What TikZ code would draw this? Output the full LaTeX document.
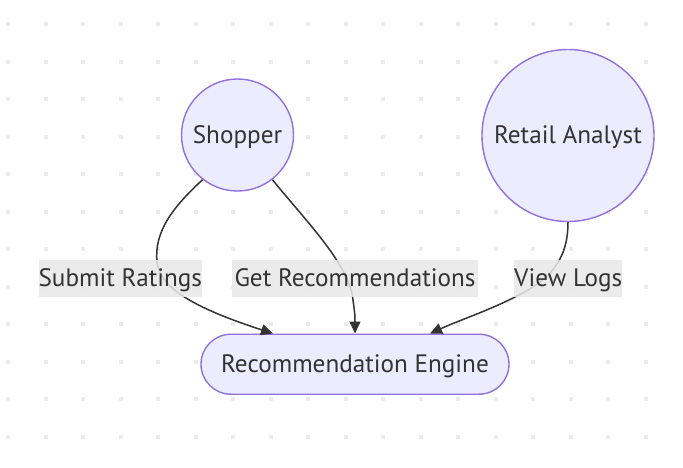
\documentclass[tikz,border=0pt]{standalone}
\usepackage{fontspec}
\setmainfont{PT Sans}
\usetikzlibrary{arrows.meta,calc}
\definecolor{nodefill}{HTML}{ECECFF}
\definecolor{nodeline}{HTML}{9370DB}
\definecolor{ink}{HTML}{333333}
\definecolor{lblbg}{HTML}{E8E8E8}
\definecolor{dotc}{HTML}{EBEBEB}
\tikzset{
  txt/.style={text=ink,font=\fontsize{25.2}{30}\selectfont,text height=20pt,text depth=3.4pt},
  actor/.style={circle,draw=nodeline,fill=nodefill,line width=1.4pt,txt,inner sep=0pt},
  engine/.style={rectangle,rounded corners=30pt,draw=nodeline,fill=nodefill,line width=1.4pt,txt,minimum width=308pt,minimum height=60pt,inner sep=0pt},
  lbl/.style={rectangle,fill=lblbg,fill opacity=0.85,text opacity=1,txt,inner sep=0pt,minimum height=36.7pt},
  edge/.style={draw=ink,line width=1.5pt,-{Triangle[length=12pt,width=11pt]}},
}
\begin{document}
\begin{tikzpicture}[x=1pt,y=-1pt]
\useasboundingbox[fill=white] (0,0) rectangle (683,467);
\foreach \i in {0,...,17}{
  \foreach \j in {0,...,11}{
    \fill[dotc] ({8+37.5*\i-2},{24+37.5*\j-2}) rectangle ++(4,4);
  }
}
\node[actor,minimum size=112pt] (shopper) at (237.5,135) {Shopper};
\node[actor,minimum size=172pt] (analyst) at (568,135.5) {Retail Analyst};
\node[engine] (eng) at (355,364.2) {Recommendation Engine};
\coordinate (e1) at ([xshift=-82pt]eng.north);
\coordinate (e3) at ([xshift=75pt]eng.north);
\draw[edge] (shopper.232) .. controls (172,208) and (154,232) .. (157,262) .. controls (160,285) and (185,305) .. (e1);
\draw[edge] (shopper.308) .. controls (305,220) and (350,265) .. (353,300) .. controls (355,315) .. (eng.north);
\draw[edge] (analyst.south) .. controls (568,262) and (548,280) .. (517,296) .. controls (490,310) and (460,320) .. (e3);
\node[lbl,minimum width=162.7pt] (l1) at (120.3,278.4) {Submit Ratings};
\node[lbl,minimum width=246pt] (l2) at (355,278.4) {Get Recommendations};
\node[lbl,minimum width=107.7pt] (l3) at (568.2,278.4) {View Logs};
\end{tikzpicture}
\end{document}
